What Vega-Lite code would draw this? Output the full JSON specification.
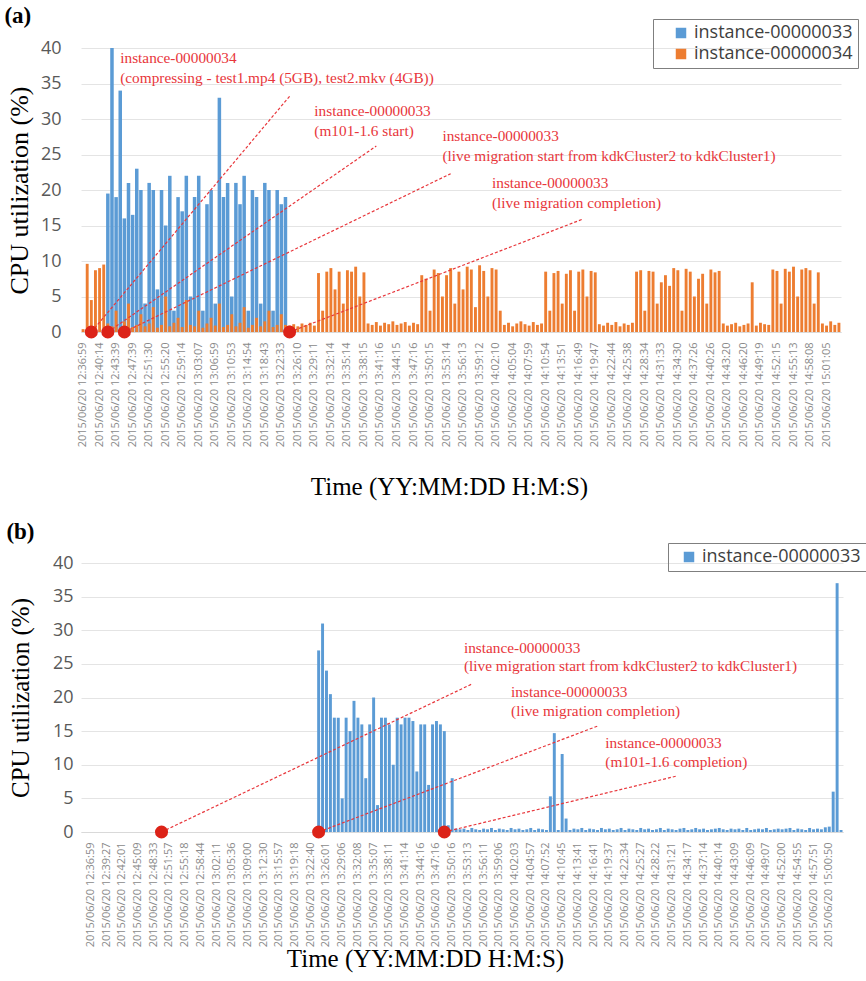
{
  "$schema": "https://vega.github.io/schema/vega-lite/v6.json",
  "background": "white",
  "padding": {"left": 4, "top": 4, "right": 0, "bottom": 4},
  "columns": 1,
  "align": "none",
  "spacing": 20,
  "config": {
    "view": {"stroke": null},
    "title": {"font": "Liberation Serif", "fontSize": 23, "fontWeight": "bold", "color": "#000000", "anchor": "start", "frame": "bounds", "dx": -2},
    "axisY": {"labelFont": "Open Sans", "labelFontSize": 18, "labelColor": "#595959", "labelPadding": 20, "titleFont": "Liberation Serif", "titleFontSize": 26, "titleFontWeight": "normal", "titleColor": "#000000", "titlePadding": 8, "grid": true, "gridColor": "#e4e4e4", "ticks": false, "domain": false, "values": [0, 5, 10, 15, 20, 25, 30, 35, 40]},
    "axisX": {"labelFont": "Open Sans", "labelFontSize": 11, "labelColor": "#8a8a8a", "labelAngle": -90, "labelPadding": 10, "labelOverlap": false, "labelBound": false, "labelFlush": false, "titleFont": "Liberation Serif", "titleFontSize": 25, "titleFontWeight": "normal", "titleColor": "#000000", "titlePadding": 28, "grid": false, "ticks": false, "domain": true, "domainColor": "#d9d9d9", "labelExpr": "indexof(datum.label, '.') < 0 ? '2015/06/20 ' + datum.label : ''"},
    "legend": {"title": null, "symbolType": "square", "symbolSize": 110, "labelFont": "Open Sans", "labelFontSize": 18, "labelColor": "#404040", "strokeColor": "#7f7f7f", "padding": 5, "rowPadding": 3, "symbolOffset": 14}
  },
  "resolve": {"scale": {"color": "independent"}, "legend": {"color": "independent"}},
  "datasets": {
    "a": [
      {"t":"12:36:59","a":0,"b":0.4},{"t":"12:36:59.1","a":0,"b":9.6},{"t":"12:36:59.2","a":0,"b":4.5},{"t":"12:36:59.3","a":0,"b":8.7},
      {"t":"12:40:14","a":0,"b":9.0},{"t":"12:40:14.1","a":0,"b":9.5},{"t":"12:40:14.2","a":19.5,"b":1.2},{"t":"12:40:14.3","a":40,"b":0.8},
      {"t":"12:43:39","a":19,"b":3},{"t":"12:43:39.1","a":34,"b":0.6},{"t":"12:43:39.2","a":16,"b":1.5},{"t":"12:43:39.3","a":21,"b":4},
      {"t":"12:47:39","a":16.5,"b":0.7},{"t":"12:47:39.1","a":23,"b":1},{"t":"12:47:39.2","a":20,"b":2.5},{"t":"12:47:39.3","a":4,"b":0.8},
      {"t":"12:51:30","a":21,"b":1.2},{"t":"12:51:30.1","a":20,"b":3.5},{"t":"12:51:30.2","a":6,"b":0.6},{"t":"12:51:30.3","a":20,"b":1},
      {"t":"12:55:20","a":15,"b":5},{"t":"12:55:20.1","a":22,"b":0.8},{"t":"12:55:20.2","a":3,"b":1.3},{"t":"12:55:20.3","a":19,"b":2},
      {"t":"12:59:14","a":17,"b":0.7},{"t":"12:59:14.1","a":22,"b":4.5},{"t":"12:59:14.2","a":5,"b":1},{"t":"12:59:14.3","a":19,"b":0.8},
      {"t":"13:03:07","a":22,"b":3},{"t":"13:03:07.1","a":3,"b":0.6},{"t":"13:03:07.2","a":18,"b":1.2},{"t":"13:03:07.3","a":20,"b":2},
      {"t":"13:06:59","a":4,"b":0.9},{"t":"13:06:59.1","a":33,"b":4},{"t":"13:06:59.2","a":19,"b":0.7},{"t":"13:06:59.3","a":21,"b":1},
      {"t":"13:10:53","a":5,"b":2.5},{"t":"13:10:53.1","a":21,"b":0.8},{"t":"13:10:53.2","a":18,"b":1.3},{"t":"13:10:53.3","a":22,"b":3.5},
      {"t":"13:14:54","a":3,"b":0.6},{"t":"13:14:54.1","a":20,"b":1},{"t":"13:14:54.2","a":19,"b":2},{"t":"13:14:54.3","a":4,"b":0.8},
      {"t":"13:18:43","a":21,"b":1.5},{"t":"13:18:43.1","a":20,"b":3},{"t":"13:18:43.2","a":3,"b":0.7},{"t":"13:18:43.3","a":20,"b":1},
      {"t":"13:22:33","a":18,"b":2.5},{"t":"13:22:33.1","a":19,"b":1},{"t":"13:22:33.2","a":0,"b":0.9},{"t":"13:22:33.3","a":0,"b":1.1},
      {"t":"13:26:10","a":0,"b":0.8},{"t":"13:26:10.1","a":0,"b":1.2},{"t":"13:26:10.2","a":0,"b":1.0},{"t":"13:26:10.3","a":0,"b":1.3},
      {"t":"13:29:11","a":0,"b":0.9},{"t":"13:29:11.1","a":0,"b":8.3},{"t":"13:29:11.2","a":0,"b":3},{"t":"13:29:11.3","a":0,"b":8.5},
      {"t":"13:32:14","a":0,"b":9},{"t":"13:32:14.1","a":0,"b":6},{"t":"13:32:14.2","a":0,"b":8.5},{"t":"13:32:14.3","a":0,"b":4},
      {"t":"13:35:14","a":0,"b":8.7},{"t":"13:35:14.1","a":0,"b":8.5},{"t":"13:35:14.2","a":0,"b":9.2},{"t":"13:35:14.3","a":0,"b":5},
      {"t":"13:38:15","a":0,"b":8.4},{"t":"13:38:15.1","a":0,"b":1.2},{"t":"13:38:15.2","a":0,"b":1.0},{"t":"13:38:15.3","a":0,"b":1.4},
      {"t":"13:41:16","a":0,"b":0.9},{"t":"13:41:16.1","a":0,"b":1.3},{"t":"13:41:16.2","a":0,"b":1.1},{"t":"13:41:16.3","a":0,"b":1.5},
      {"t":"13:44:15","a":0,"b":1.0},{"t":"13:44:15.1","a":0,"b":1.2},{"t":"13:44:15.2","a":0,"b":1.4},{"t":"13:44:15.3","a":0,"b":0.9},
      {"t":"13:47:16","a":0,"b":1.3},{"t":"13:47:16.1","a":0,"b":1.1},{"t":"13:47:16.2","a":0,"b":8},{"t":"13:47:16.3","a":0,"b":7.5},
      {"t":"13:50:15","a":0,"b":3},{"t":"13:50:15.1","a":0,"b":8.8},{"t":"13:50:15.2","a":0,"b":8.3},{"t":"13:50:15.3","a":0,"b":5},
      {"t":"13:53:14","a":0,"b":8},{"t":"13:53:14.1","a":0,"b":9},{"t":"13:53:14.2","a":0,"b":4},{"t":"13:53:14.3","a":0,"b":8.5},
      {"t":"13:56:13","a":0,"b":6},{"t":"13:56:13.1","a":0,"b":9.2},{"t":"13:56:13.2","a":0,"b":8.8},{"t":"13:56:13.3","a":0,"b":3.5},
      {"t":"13:59:12","a":0,"b":9.4},{"t":"13:59:12.1","a":0,"b":8.6},{"t":"13:59:12.2","a":0,"b":5},{"t":"13:59:12.3","a":0,"b":9},
      {"t":"14:02:10","a":0,"b":8.8},{"t":"14:02:10.1","a":0,"b":3},{"t":"14:02:10.2","a":0,"b":1.0},{"t":"14:02:10.3","a":0,"b":1.3},
      {"t":"14:05:04","a":0,"b":0.8},{"t":"14:05:04.1","a":0,"b":1.2},{"t":"14:05:04.2","a":0,"b":1.5},{"t":"14:05:04.3","a":0,"b":1.1},
      {"t":"14:07:59","a":0,"b":0.9},{"t":"14:07:59.1","a":0,"b":1.4},{"t":"14:07:59.2","a":0,"b":1.0},{"t":"14:07:59.3","a":0,"b":1.2},
      {"t":"14:10:54","a":0,"b":8.5},{"t":"14:10:54.1","a":0,"b":3},{"t":"14:10:54.2","a":0,"b":8.3},{"t":"14:10:54.3","a":0,"b":8.6},
      {"t":"14:13:51","a":0,"b":4},{"t":"14:13:51.1","a":0,"b":8.2},{"t":"14:13:51.2","a":0,"b":8.7},{"t":"14:13:51.3","a":0,"b":3},
      {"t":"14:16:49","a":0,"b":8.5},{"t":"14:16:49.1","a":0,"b":8.8},{"t":"14:16:49.2","a":0,"b":5},{"t":"14:16:49.3","a":0,"b":8.6},
      {"t":"14:19:47","a":0,"b":8.4},{"t":"14:19:47.1","a":0,"b":1.1},{"t":"14:19:47.2","a":0,"b":0.9},{"t":"14:19:47.3","a":0,"b":1.3},
      {"t":"14:22:44","a":0,"b":1.0},{"t":"14:22:44.1","a":0,"b":1.4},{"t":"14:22:44.2","a":0,"b":0.8},{"t":"14:22:44.3","a":0,"b":1.2},
      {"t":"14:25:38","a":0,"b":1.0},{"t":"14:25:38.1","a":0,"b":1.3},{"t":"14:25:38.2","a":0,"b":8.5},{"t":"14:25:38.3","a":0,"b":8.7},
      {"t":"14:28:34","a":0,"b":3},{"t":"14:28:34.1","a":0,"b":8.6},{"t":"14:28:34.2","a":0,"b":8.5},{"t":"14:28:34.3","a":0,"b":4},
      {"t":"14:31:33","a":0,"b":7},{"t":"14:31:33.1","a":0,"b":8},{"t":"14:31:33.2","a":0,"b":6.5},{"t":"14:31:33.3","a":0,"b":9},
      {"t":"14:34:30","a":0,"b":8.7},{"t":"14:34:30.1","a":0,"b":3},{"t":"14:34:30.2","a":0,"b":8.9},{"t":"14:34:30.3","a":0,"b":8.5},
      {"t":"14:37:26","a":0,"b":5},{"t":"14:37:26.1","a":0,"b":7.5},{"t":"14:37:26.2","a":0,"b":8.2},{"t":"14:37:26.3","a":0,"b":4},
      {"t":"14:40:26","a":0,"b":8.8},{"t":"14:40:26.1","a":0,"b":8.4},{"t":"14:40:26.2","a":0,"b":8.6},{"t":"14:40:26.3","a":0,"b":1.2},
      {"t":"14:43:20","a":0,"b":0.9},{"t":"14:43:20.1","a":0,"b":1.1},{"t":"14:43:20.2","a":0,"b":1.3},{"t":"14:43:20.3","a":0,"b":0.8},
      {"t":"14:46:20","a":0,"b":1.0},{"t":"14:46:20.1","a":0,"b":1.2},{"t":"14:46:20.2","a":0,"b":7},{"t":"14:46:20.3","a":0,"b":0.9},
      {"t":"14:49:19","a":0,"b":1.3},{"t":"14:49:19.1","a":0,"b":1.1},{"t":"14:49:19.2","a":0,"b":1.0},{"t":"14:49:19.3","a":0,"b":8.8},
      {"t":"14:52:15","a":0,"b":8.6},{"t":"14:52:15.1","a":0,"b":4},{"t":"14:52:15.2","a":0,"b":8.9},{"t":"14:52:15.3","a":0,"b":8.5},
      {"t":"14:55:13","a":0,"b":9.2},{"t":"14:55:13.1","a":0,"b":5},{"t":"14:55:13.2","a":0,"b":8.8},{"t":"14:55:13.3","a":0,"b":9},
      {"t":"14:58:08","a":0,"b":8.7},{"t":"14:58:08.1","a":0,"b":4},{"t":"14:58:08.2","a":0,"b":8.4},{"t":"14:58:08.3","a":0,"b":1.2},
      {"t":"15:01:05","a":0,"b":0.9},{"t":"15:01:05.1","a":0,"b":1.5},{"t":"15:01:05.2","a":0,"b":1.0},{"t":"15:01:05.3","a":0,"b":1.3}
    ],
    "aText": [
      {"t":"12:43:39.1","y":38.6,"s":"instance-00000034"},
      {"t":"12:43:39.1","y":35.8,"s":"(compressing - test1.mp4 (5GB), test2.mkv (4GB))"},
      {"t":"13:29:11","y":31.1,"s":"instance-00000033"},
      {"t":"13:29:11","y":28.3,"s":"(m101-1.6 start)"},
      {"t":"13:50:15.3","y":27.6,"s":"instance-00000033"},
      {"t":"13:50:15.3","y":24.8,"s":"(live migration  start from kdkCluster2 to kdkCluster1)"},
      {"t":"13:59:12.3","y":21.0,"s":"instance-00000033"},
      {"t":"13:59:12.3","y":18.2,"s":"(live migration  completion)"}
    ],
    "aLines": [
      {"t":"12:36:59.2","t2":"13:22:33.2","y":0,"y2":33.2},
      {"t":"12:40:14.2","t2":"13:38:15.3","y":0,"y2":26.2},
      {"t":"12:43:39.2","t2":"13:53:14.1","y":0,"y2":22.3},
      {"t":"13:22:33.2","t2":"14:16:49.1","y":0,"y2":15.9}
    ],
    "b": [
      {"t":"12:36:59","v":0},{"t":"12:36:59.1","v":0},{"t":"12:36:59.2","v":0},{"t":"12:36:59.3","v":0},
      {"t":"12:39:27","v":0},{"t":"12:39:27.1","v":0},{"t":"12:39:27.2","v":0},{"t":"12:39:27.3","v":0},
      {"t":"12:42:01","v":0},{"t":"12:42:01.1","v":0},{"t":"12:42:01.2","v":0},{"t":"12:42:01.3","v":0},
      {"t":"12:45:09","v":0},{"t":"12:45:09.1","v":0},{"t":"12:45:09.2","v":0},{"t":"12:45:09.3","v":0},
      {"t":"12:48:33","v":0},{"t":"12:48:33.1","v":0},{"t":"12:48:33.2","v":0},{"t":"12:48:33.3","v":0},
      {"t":"12:51:57","v":0},{"t":"12:51:57.1","v":0},{"t":"12:51:57.2","v":0},{"t":"12:51:57.3","v":0},
      {"t":"12:55:18","v":0},{"t":"12:55:18.1","v":0},{"t":"12:55:18.2","v":0},{"t":"12:55:18.3","v":0},
      {"t":"12:58:44","v":0},{"t":"12:58:44.1","v":0},{"t":"12:58:44.2","v":0},{"t":"12:58:44.3","v":0},
      {"t":"13:02:11","v":0},{"t":"13:02:11.1","v":0},{"t":"13:02:11.2","v":0},{"t":"13:02:11.3","v":0},
      {"t":"13:05:36","v":0},{"t":"13:05:36.1","v":0},{"t":"13:05:36.2","v":0},{"t":"13:05:36.3","v":0},
      {"t":"13:09:00","v":0},{"t":"13:09:00.1","v":0},{"t":"13:09:00.2","v":0},{"t":"13:09:00.3","v":0},
      {"t":"13:12:30","v":0},{"t":"13:12:30.1","v":0},{"t":"13:12:30.2","v":0},{"t":"13:12:30.3","v":0},
      {"t":"13:15:57","v":0},{"t":"13:15:57.1","v":0},{"t":"13:15:57.2","v":0},{"t":"13:15:57.3","v":0},
      {"t":"13:19:18","v":0},{"t":"13:19:18.1","v":0},{"t":"13:19:18.2","v":0},{"t":"13:19:18.3","v":0},
      {"t":"13:22:40","v":0},{"t":"13:22:40.1","v":0},{"t":"13:22:40.2","v":27},{"t":"13:22:40.3","v":31},
      {"t":"13:26:01","v":24},{"t":"13:26:01.1","v":20.5},{"t":"13:26:01.2","v":17},{"t":"13:26:01.3","v":17},
      {"t":"13:29:06","v":5},{"t":"13:29:06.1","v":17},{"t":"13:29:06.2","v":15},{"t":"13:29:06.3","v":19.5},
      {"t":"13:32:08","v":17},{"t":"13:32:08.1","v":16},{"t":"13:32:08.2","v":8},{"t":"13:32:08.3","v":16},
      {"t":"13:35:07","v":20},{"t":"13:35:07.1","v":4},{"t":"13:35:07.2","v":17},{"t":"13:35:07.3","v":17},
      {"t":"13:38:11","v":16},{"t":"13:38:11.1","v":10},{"t":"13:38:11.2","v":17},{"t":"13:38:11.3","v":16},
      {"t":"13:41:14","v":17},{"t":"13:41:14.1","v":17},{"t":"13:41:14.2","v":16.5},{"t":"13:41:14.3","v":9},
      {"t":"13:44:16","v":16},{"t":"13:44:16.1","v":16},{"t":"13:44:16.2","v":7},{"t":"13:44:16.3","v":16},
      {"t":"13:47:16","v":16.5},{"t":"13:47:16.1","v":16},{"t":"13:47:16.2","v":15},{"t":"13:47:16.3","v":1},
      {"t":"13:50:16","v":8},{"t":"13:50:16.1","v":0.5},{"t":"13:50:16.2","v":0.4},{"t":"13:50:16.3","v":0.5},
      {"t":"13:53:13","v":0.3},{"t":"13:53:13.1","v":0.6},{"t":"13:53:13.2","v":0.4},{"t":"13:53:13.3","v":0.3},
      {"t":"13:56:11","v":0.5},{"t":"13:56:11.1","v":0.4},{"t":"13:56:11.2","v":0.6},{"t":"13:56:11.3","v":0.3},
      {"t":"13:59:06","v":0.5},{"t":"13:59:06.1","v":0.4},{"t":"13:59:06.2","v":0.3},{"t":"13:59:06.3","v":0.6},
      {"t":"14:02:03","v":0.4},{"t":"14:02:03.1","v":0.5},{"t":"14:02:03.2","v":0.3},{"t":"14:02:03.3","v":0.4},
      {"t":"14:04:57","v":0.6},{"t":"14:04:57.1","v":0.3},{"t":"14:04:57.2","v":0.5},{"t":"14:04:57.3","v":0.4},
      {"t":"14:07:52","v":0.3},{"t":"14:07:52.1","v":5.3},{"t":"14:07:52.2","v":14.7},{"t":"14:07:52.3","v":0.3},
      {"t":"14:10:45","v":11.6},{"t":"14:10:45.1","v":2},{"t":"14:10:45.2","v":0.3},{"t":"14:10:45.3","v":0.5},
      {"t":"14:13:41","v":0.4},{"t":"14:13:41.1","v":0.6},{"t":"14:13:41.2","v":0.3},{"t":"14:13:41.3","v":0.5},
      {"t":"14:16:41","v":0.4},{"t":"14:16:41.1","v":0.3},{"t":"14:16:41.2","v":0.6},{"t":"14:16:41.3","v":0.4},
      {"t":"14:19:37","v":0.5},{"t":"14:19:37.1","v":0.3},{"t":"14:19:37.2","v":0.4},{"t":"14:19:37.3","v":0.6},
      {"t":"14:22:34","v":0.3},{"t":"14:22:34.1","v":0.5},{"t":"14:22:34.2","v":0.4},{"t":"14:22:34.3","v":0.3},
      {"t":"14:25:27","v":0.6},{"t":"14:25:27.1","v":0.4},{"t":"14:25:27.2","v":0.5},{"t":"14:25:27.3","v":0.3},
      {"t":"14:28:22","v":0.4},{"t":"14:28:22.1","v":0.6},{"t":"14:28:22.2","v":0.3},{"t":"14:28:22.3","v":0.5},
      {"t":"14:31:21","v":0.4},{"t":"14:31:21.1","v":0.3},{"t":"14:31:21.2","v":0.5},{"t":"14:31:21.3","v":0.6},
      {"t":"14:34:17","v":0.3},{"t":"14:34:17.1","v":0.4},{"t":"14:34:17.2","v":0.6},{"t":"14:34:17.3","v":0.4},
      {"t":"14:37:14","v":0.5},{"t":"14:37:14.1","v":0.3},{"t":"14:37:14.2","v":0.4},{"t":"14:37:14.3","v":0.5},
      {"t":"14:40:14","v":0.6},{"t":"14:40:14.1","v":0.4},{"t":"14:40:14.2","v":0.3},{"t":"14:40:14.3","v":0.5},
      {"t":"14:43:09","v":0.4},{"t":"14:43:09.1","v":0.5},{"t":"14:43:09.2","v":0.3},{"t":"14:43:09.3","v":0.6},
      {"t":"14:46:09","v":0.3},{"t":"14:46:09.1","v":0.4},{"t":"14:46:09.2","v":0.5},{"t":"14:46:09.3","v":0.4},
      {"t":"14:49:07","v":0.6},{"t":"14:49:07.1","v":0.3},{"t":"14:49:07.2","v":0.4},{"t":"14:49:07.3","v":0.5},
      {"t":"14:52:00","v":0.4},{"t":"14:52:00.1","v":0.5},{"t":"14:52:00.2","v":0.6},{"t":"14:52:00.3","v":0.3},
      {"t":"14:54:55","v":0.5},{"t":"14:54:55.1","v":0.4},{"t":"14:54:55.2","v":0.3},{"t":"14:54:55.3","v":0.6},
      {"t":"14:57:51","v":0.4},{"t":"14:57:51.1","v":0.5},{"t":"14:57:51.2","v":0.4},{"t":"14:57:51.3","v":0.7},
      {"t":"15:00:50","v":0.8},{"t":"15:00:50.1","v":6},{"t":"15:00:50.2","v":37},{"t":"15:00:50.3","v":0.3}
    ],
    "bText": [
      {"t":"13:50:16.3","y":27.3,"s":"instance-00000033"},
      {"t":"13:50:16.3","y":24.7,"s":"(live migration  start from kdkCluster2 to kdkCluster1)"},
      {"t":"13:59:06.3","y":20.8,"s":"instance-00000033"},
      {"t":"13:59:06.3","y":18.0,"s":"(live migration  completion)"},
      {"t":"14:16:41.3","y":13.2,"s":"instance-00000033"},
      {"t":"14:16:41.3","y":10.4,"s":"(m101-1.6 completion)"}
    ],
    "bLines": [
      {"t":"12:48:33.2","t2":"13:53:13.1","y":0,"y2":22.0},
      {"t":"13:22:40.2","t2":"14:16:41.1","y":0,"y2":15.75},
      {"t":"13:47:16.2","t2":"14:31:21.1","y":0,"y2":8.3}
    ]
  },
  "concat": [
    {
      "title": {"text": "(a)", "offset": -9},
      "width": 760,
      "height": 284,
      "layer": [
        {
          "data": {"name": "a"},
          "mark": {"type": "bar", "width": {"band": 0.85}},
          "encoding": {
            "x": {"field": "t", "type": "ordinal", "scale": {"paddingInner": 0, "paddingOuter": 0}, "axis": {"title": "Time (YY:MM:DD H:M:S)", "titleX": 368}},
            "y": {"field": "a", "type": "quantitative", "scale": {"domain": [0, 40], "nice": false}, "axis": {"title": "CPU utilization (%)"}},
            "color": {"datum": "instance-00000033", "scale": {"domain": ["instance-00000033", "instance-00000034"], "range": ["#5b9bd5", "#ed7d31"]}, "legend": {"orient": "none", "legendX": 572, "legendY": -29}}
          }
        },
        {
          "data": {"name": "a"},
          "mark": {"type": "bar", "width": {"band": 0.7}},
          "encoding": {
            "x": {"field": "t", "type": "ordinal"},
            "y": {"field": "b", "type": "quantitative"},
            "color": {"datum": "instance-00000034"}
          }
        },
        {
          "data": {"name": "aLines"},
          "mark": {"type": "rule", "color": "#e8363b", "strokeDash": [3, 2], "strokeWidth": 1.2},
          "encoding": {
            "x": {"field": "t", "type": "ordinal"},
            "x2": {"field": "t2"},
            "y": {"field": "y", "type": "quantitative"},
            "y2": {"field": "y2"}
          }
        },
        {
          "data": {"name": "aLines"},
          "mark": {"type": "circle", "size": 170, "color": "#dc2318", "opacity": 1},
          "encoding": {
            "x": {"field": "t", "type": "ordinal"},
            "y": {"field": "y", "type": "quantitative"}
          }
        },
        {
          "data": {"name": "aText"},
          "mark": {"type": "text", "align": "left", "baseline": "middle", "font": "Liberation Serif", "fontSize": 15.3, "color": "#e8363b"},
          "encoding": {
            "x": {"field": "t", "type": "ordinal"},
            "y": {"field": "y", "type": "quantitative"},
            "text": {"field": "s"}
          }
        }
      ]
    },
    {
      "title": {"text": "(b)", "offset": -1},
      "width": 762,
      "height": 269,
      "layer": [
        {
          "data": {"name": "b"},
          "mark": {"type": "bar", "width": {"band": 0.75}},
          "encoding": {
            "x": {"field": "t", "type": "ordinal", "scale": {"paddingInner": 0, "paddingOuter": 1.5, "align": 1}, "axis": {"title": "Time (YY:MM:DD H:M:S)", "titleX": 344, "titlePadding": 0}},
            "y": {"field": "v", "type": "quantitative", "scale": {"domain": [0, 40], "nice": false}, "axis": {"title": "CPU utilization (%)", "titleFontSize": 25, "titlePadding": 19, "labelPadding": 8}},
            "color": {"datum": "instance-00000033", "scale": {"domain": ["instance-00000033"], "range": ["#5b9bd5"]}, "legend": {"orient": "none", "legendX": 587, "legendY": -20, "symbolOffset": 7, "padding": 5}}
          }
        },
        {
          "data": {"name": "bLines"},
          "mark": {"type": "rule", "color": "#e8363b", "strokeDash": [3, 2], "strokeWidth": 1.2},
          "encoding": {
            "x": {"field": "t", "type": "ordinal"},
            "x2": {"field": "t2"},
            "y": {"field": "y", "type": "quantitative"},
            "y2": {"field": "y2"}
          }
        },
        {
          "data": {"name": "bLines"},
          "mark": {"type": "circle", "size": 170, "color": "#dc2318", "opacity": 1},
          "encoding": {
            "x": {"field": "t", "type": "ordinal"},
            "y": {"field": "y", "type": "quantitative"}
          }
        },
        {
          "data": {"name": "bText"},
          "mark": {"type": "text", "align": "left", "baseline": "middle", "font": "Liberation Serif", "fontSize": 15.3, "color": "#e8363b"},
          "encoding": {
            "x": {"field": "t", "type": "ordinal"},
            "y": {"field": "y", "type": "quantitative"},
            "text": {"field": "s"}
          }
        }
      ]
    }
  ]
}
